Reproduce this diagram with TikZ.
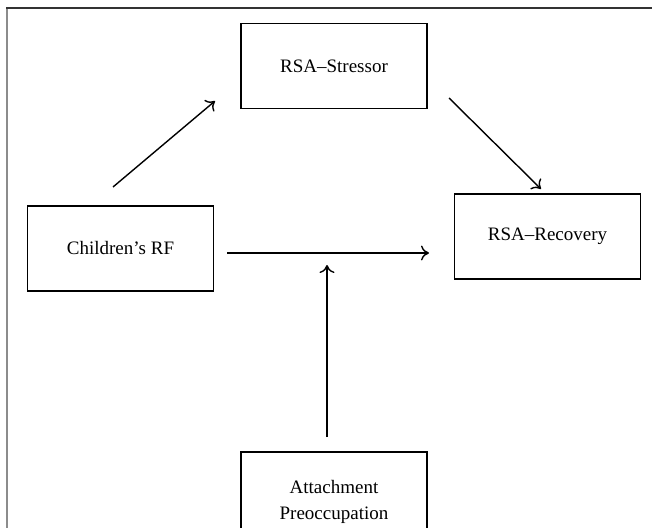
\documentclass[tikz,border=0pt]{standalone}
\usepackage{fontspec}
\setmainfont{Liberation Serif}
\usetikzlibrary{arrows.meta}
\begin{document}
\begin{tikzpicture}[x=1bp,y=-1bp,
  box/.style={draw=black,line width=1.4bp,minimum width=186bp,minimum height=85bp,inner sep=0pt,
    font=\fontsize{19bp}{26.5bp}\selectfont,align=center},
  arr/.style={line width=1.4bp,-{To[length=8bp,width=15bp]}}]
\useasboundingbox (0,0) rectangle (652,528);
\fill[white] (0,0) rectangle (652,528);
\draw[black!45,line width=1.2bp] (7,540) -- (7,8);
\draw[black!80,line width=1.2bp] (6.4,8) -- (660,8);
\node[box] (rf) at (120.5,248.5) {Children’s RF};
\node[box] (st) at (334,66) {RSA–Stressor};
\node[box] (rc) at (547.5,236.5) {RSA–Recovery};
\node[box,minimum height=100bp] (ap) at (334,502) {Attachment\\Preoccupation};
\coordinate (a1s) at (113,187);
\coordinate (a1e) at (215,101);
\coordinate (a2s) at (449,98);
\coordinate (a2e) at (541,189);
\coordinate (a3s) at (227,253);
\coordinate (a3e) at (429,253);
\coordinate (a4s) at (327,437);
\coordinate (a4e) at (327,265);
\draw[arr] (a1s) -- (a1e);
\draw[arr] (a2s) -- (a2e);
\draw[arr] (a3s) -- (a3e);
\draw[arr] (a4s) -- (a4e);
\end{tikzpicture}
\end{document}
